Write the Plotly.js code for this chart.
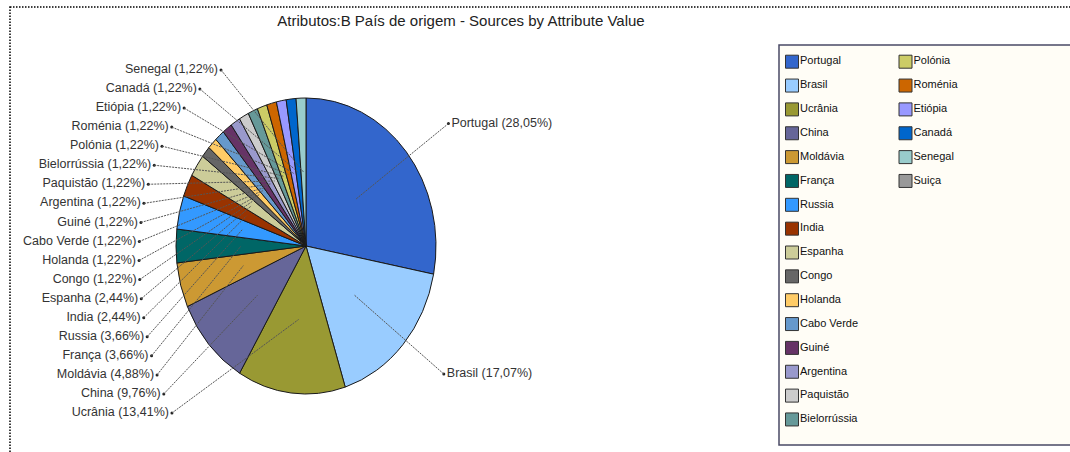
<!DOCTYPE html>
<html><head><meta charset="utf-8">
<script src="https://cdn.plot.ly/plotly-3.0.1.min.js"></script>
<style>html,body{margin:0;padding:0;background:#fff}#chart{width:1070px;height:452px}</style>
</head><body><div id="chart"></div>
<script>
const categories = ['Portugal','Brasil','Ucrânia','China','Moldávia','França','Russia','India','Espanha','Congo','Holanda','Cabo Verde','Guiné','Argentina','Paquistão','Bielorrússia','Polónia','Roménia','Etiópia','Canadá','Senegal','Suiça'];
const counts = [23,14,11,8,4,3,3,2,2,1,1,1,1,1,1,1,1,1,1,1,1,0];
const colors = ['#3366CC','#99CCFF','#999933','#666699','#CC9933','#006666','#3399FF','#993300','#CCCC99','#666666','#FFCC66','#6699CC','#663366','#9999CC','#CCCCCC','#669999','#CCCC66','#CC6600','#9999FF','#0066CC','#99CCCC','#999999'];
const chartTitle = 'Atributos:B País de origem - Sources by Attribute Value';

const W = 1070, H = 452;
const CX = 306, CY = 246, RX = 130, RY = 148;
const SY = RY / RX;
const total = counts.reduce((a, b) => a + b, 0);
const pieIdx = counts.map((v, i) => i).filter(i => counts[i] > 0);
function pct(v) { return (v / total * 100).toFixed(2).replace('.', ',') + '%'; }
let cum = 0; const mid = {};
pieIdx.forEach(i => { mid[i] = (cum + counts[i] / 2) / total * 2 * Math.PI; cum += counts[i]; });
function pt(theta, fx, fy) { return [CX + fx * RX * Math.sin(theta), CY - fy * RY * Math.cos(theta)]; }

const rightIdx = pieIdx.filter(i => mid[i] <= Math.PI);
const leftIdx = pieIdx.filter(i => mid[i] > Math.PI).sort((a, b) => mid[a] - mid[b]);
const anchors = {};
rightIdx.forEach(i => { anchors[i] = pt(mid[i], 1.42, 1.3); });
const LB = 413, LSTEP = 19.06, LYC = 255, LRX = 167;
leftIdx.forEach((i, k) => {
  const y = LB - k * LSTEP; const dy = y - LYC; const ry = dy < 0 ? 215 : 265;
  const f = Math.sqrt(Math.max(0, 1 - (dy / ry) ** 2));
  anchors[i] = [CX - LRX * f, y];
});

const labelFont = {family: 'Liberation Sans, Arial, sans-serif', size: 12.5, color: '#333333'};
const traces = [];
traces.push({
  type: 'pie', labels: pieIdx.map(i => categories[i]), values: pieIdx.map(i => counts[i]),
  marker: {colors: pieIdx.map(i => colors[i]), line: {color: '#1a1a1a', width: 1}},
  sort: false, direction: 'clockwise', rotation: 0, textinfo: 'none', hoverinfo: 'skip',
  showlegend: false,
  domain: {x: [(CX - RX) / W, (CX + RX) / W], y: [(H - CY - RX) / H, (H - CY + RX) / H]}
});
traces.push({
  type: 'scatter', mode: 'markers', x: pieIdx.map(i => anchors[i][0]), y: pieIdx.map(i => anchors[i][1]),
  marker: {size: 3, color: '#222'}, hoverinfo: 'skip', showlegend: false
});
traces.push({
  type: 'scatter', mode: 'text', x: leftIdx.map(i => anchors[i][0] - 3), y: leftIdx.map(i => anchors[i][1]),
  text: leftIdx.map(i => categories[i] + ' (' + pct(counts[i]) + ')'), textposition: 'middle left',
  textfont: labelFont, hoverinfo: 'skip', showlegend: false, cliponaxis: false
});
traces.push({
  type: 'scatter', mode: 'text', x: rightIdx.map(i => anchors[i][0] + 3), y: rightIdx.map(i => anchors[i][1]),
  text: rightIdx.map(i => categories[i] + ' (' + pct(counts[i]) + ')'), textposition: 'middle right',
  textfont: labelFont, hoverinfo: 'skip', showlegend: false, cliponaxis: false
});
// legend (two columns, column-major)
const LEG_ROWS = 16, LEG_X0 = 792, LEG_DX = 113.5, LEG_Y0 = 61.7, LEG_DY = 23.85;
const legX = categories.map((c, i) => LEG_X0 + Math.floor(i / LEG_ROWS) * LEG_DX);
const legY = categories.map((c, i) => LEG_Y0 + (i % LEG_ROWS) * LEG_DY);
traces.push({
  type: 'scatter', mode: 'markers', x: legX, y: legY,
  marker: {symbol: 'square', size: 13, color: colors, line: {color: '#333', width: 1}},
  hoverinfo: 'skip', showlegend: false, cliponaxis: false
});
traces.push({
  type: 'scatter', mode: 'text', x: legX.map(x => x + 8), y: legY, text: categories,
  textposition: 'middle right', textfont: {family: 'Liberation Sans, Arial, sans-serif', size: 11, color: '#111'},
  hoverinfo: 'skip', showlegend: false, cliponaxis: false
});

const shapes = [];
shapes.push({type: 'rect', xref: 'x', yref: 'y', x0: 10, y0: 7, x1: 1085, y1: 470,
  line: {color: '#000', width: 1.5, dash: '1.5px,1.5px'}, fillcolor: 'rgba(0,0,0,0)', layer: 'below'});
shapes.push({type: 'rect', xref: 'x', yref: 'y', x0: 779, y0: 45, x1: 1085, y1: 445,
  line: {color: '#4a4a66', width: 1.5}, fillcolor: '#FFFDF6', layer: 'below'});
pieIdx.forEach(i => {
  const inner = pt(mid[i], 0.5, 0.5);
  shapes.push({type: 'line', xref: 'x', yref: 'y', x0: anchors[i][0], y0: anchors[i][1], x1: inner[0], y1: inner[1],
    line: {color: '#555', width: 1, dash: '2px,1px'}, layer: 'above'});
});

const layout = {
  width: W, height: H, margin: {l: 0, r: 0, t: 0, b: 0, pad: 0},
  paper_bgcolor: '#ffffff', plot_bgcolor: 'rgba(0,0,0,0)',
  showlegend: false,
  title: {text: chartTitle, x: 461 / W, xanchor: 'center', y: 1 - 21 / H, yanchor: 'middle', yref: 'container',
    font: {family: 'Liberation Sans, Arial, sans-serif', size: 15, color: '#222'}},
  xaxis: {range: [0, W], visible: false, fixedrange: true},
  yaxis: {range: [H, 0], visible: false, fixedrange: true},
  shapes: shapes
};
function stretchPie() {
  // the reference pie is drawn as a slightly taller ellipse
  document.querySelectorAll('.pielayer').forEach(g => {
    g.setAttribute('transform', 'translate(0,' + (CY * (1 - SY)) + ') scale(1,' + SY + ')');
    g.querySelectorAll('path').forEach(p => p.setAttribute('vector-effect', 'non-scaling-stroke'));
  });
}
Plotly.newPlot('chart', traces, layout, {displayModeBar: false, staticPlot: true}).then(stretchPie);
</script></body></html>
